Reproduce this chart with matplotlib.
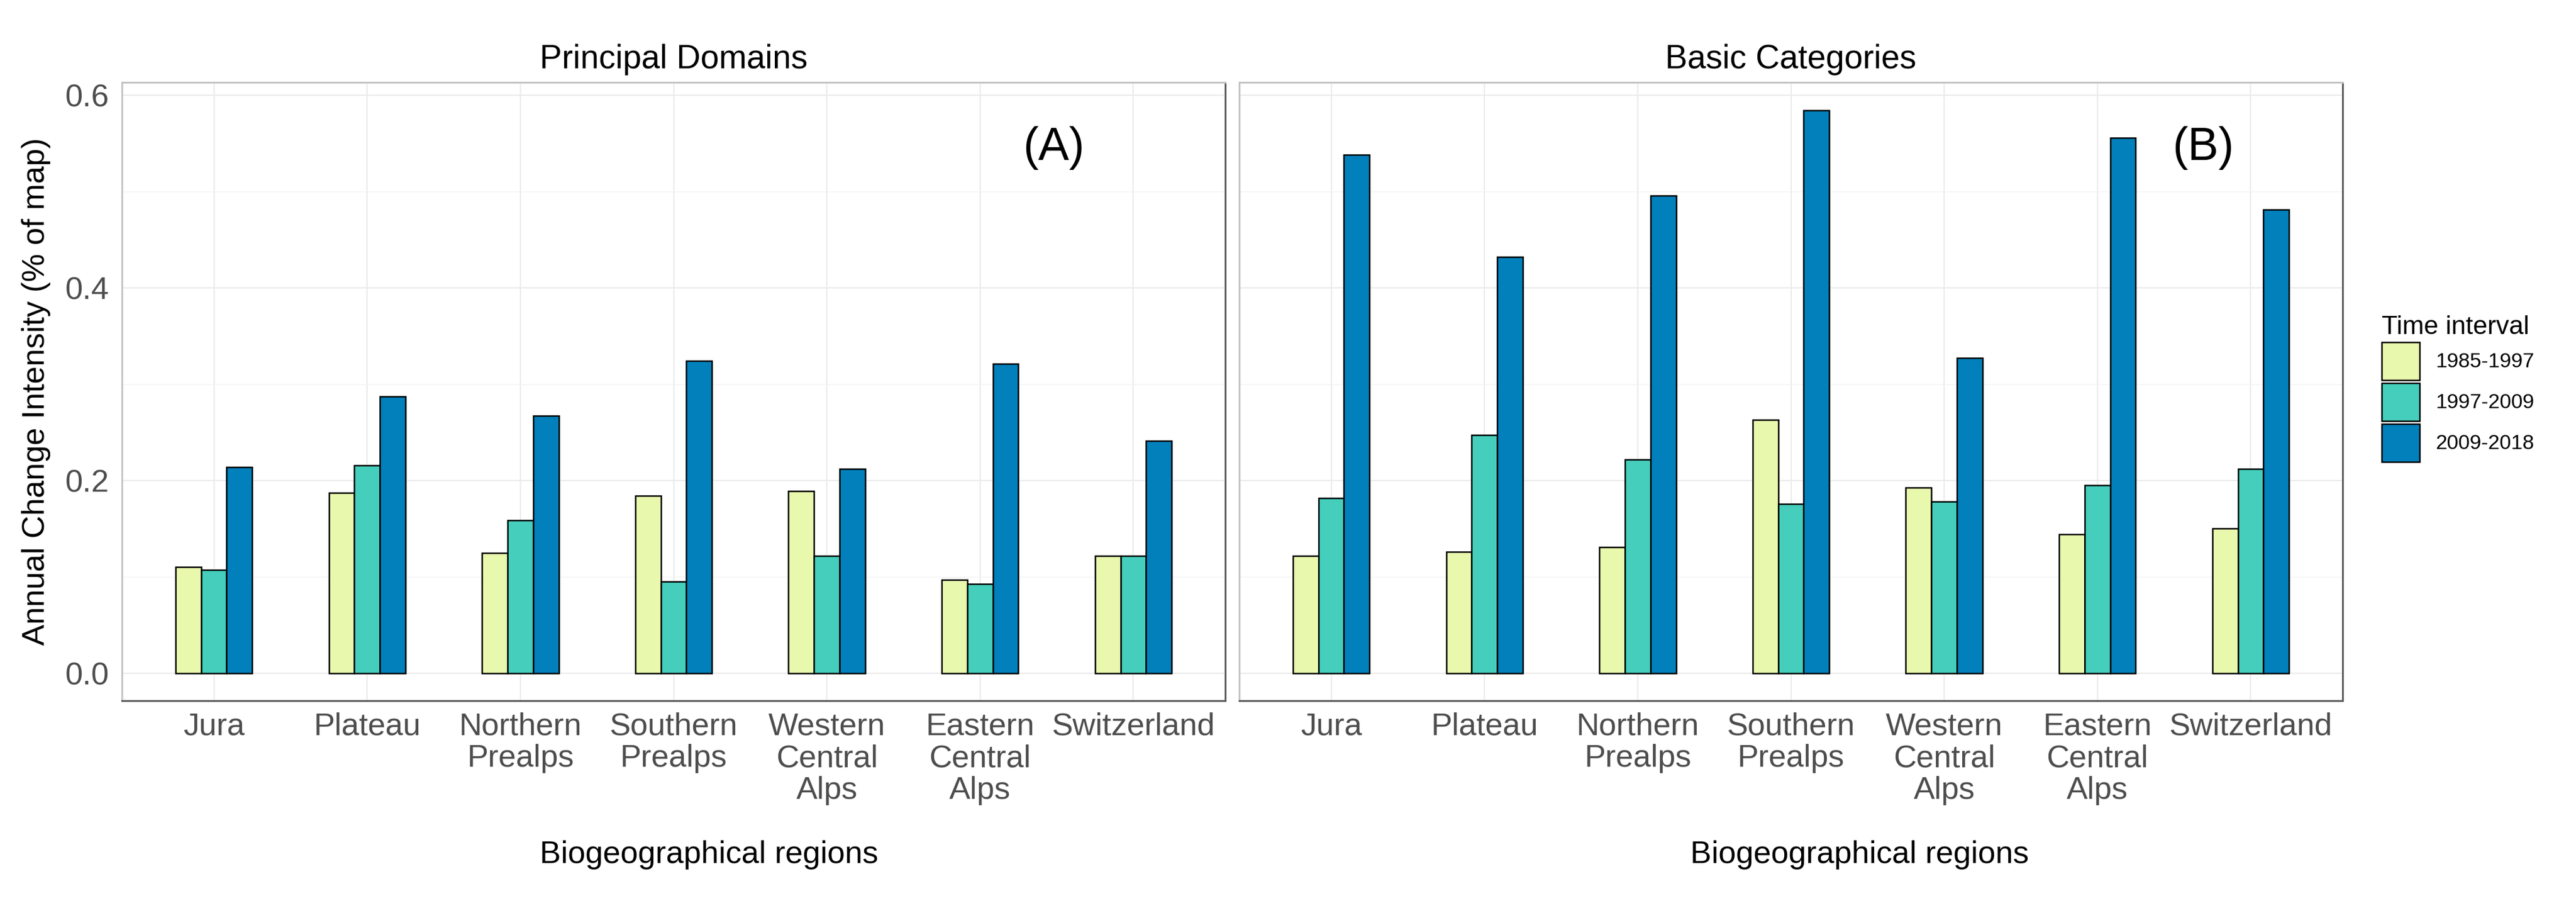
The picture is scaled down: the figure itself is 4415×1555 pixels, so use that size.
import matplotlib
matplotlib.use("Agg")
import matplotlib.pyplot as plt
import numpy as np
from matplotlib.patches import Patch

# Data -----------------------------------------------------------
regions = ["Jura", "Plateau", "Northern\nPrealps", "Southern\nPrealps",
           "Western\nCentral\nAlps", "Eastern\nCentral\nAlps", "Switzerland"]
intervals = ["1985-1997", "1997-2009", "2009-2018"]
colors = ["#E8F8AD", "#44CEBB", "#0180BB"]

# panel A: principal domains
domains_85_97 = [0.110, 0.187, 0.125, 0.184, 0.189, 0.097, 0.122]
domains_97_09 = [0.107, 0.216, 0.159, 0.095, 0.122, 0.093, 0.122]
domains_09_18 = [0.214, 0.287, 0.267, 0.324, 0.212, 0.321, 0.241]

# panel B: basic categories
basic_85_97 = [0.122, 0.126, 0.131, 0.263, 0.193, 0.144, 0.150]
basic_97_09 = [0.182, 0.247, 0.222, 0.176, 0.178, 0.195, 0.212]
basic_09_18 = [0.538, 0.432, 0.496, 0.584, 0.327, 0.556, 0.481]

yticks = [0.0, 0.2, 0.4, 0.6]
ytick_labels = ["0.0", "0.2", "0.4", "0.6"]

# Figure ---------------------------------------------------------
plt.rcParams["font.family"] = ["Liberation Sans", "DejaVu Sans"]

W, H = 4415, 1555
fig = plt.figure(figsize=(W / 100, H / 100), dpi=100)

def px_box(x0, y0, x1, y1):
    return [x0 / W, 1 - y1 / H, (x1 - x0) / W, (y1 - y0) / H]

axA = fig.add_axes(px_box(209, 141, 2100, 1200))
axB = fig.add_axes(px_box(2124, 141, 4015, 1200))

panels = [
    (axA, [domains_85_97, domains_97_09, domains_09_18], "Principal Domains", "(A)", 6.48),
    (axB, [basic_85_97, basic_97_09, basic_09_18], "Basic Categories", "(B)", 6.69),
]

x = np.arange(1, len(regions) + 1)
bw = 0.5 / 3

for ax, series, strip, tag, tag_x in panels:
    for i, vals in enumerate(series):
        ax.bar(x + (i - 1) * bw, vals, width=bw, color=colors[i],
               edgecolor="black", linewidth=1.8, zorder=3)

    ax.set_xlim(0.4, 7.6)
    ax.set_ylim(-0.0285, 0.6133)
    ax.set_xticks(x)
    ax.set_xticklabels(regions, fontsize=39, color="#4D4D4D", linespacing=1.12)
    ax.set_yticks(yticks)
    ax.set_yticks([0.1, 0.3, 0.5], minor=True)
    ax.tick_params(axis="both", which="both", length=0)
    ax.tick_params(axis="x", pad=14)
    ax.tick_params(axis="y", pad=16)

    ax.grid(True, which="major", color="#EBEBEB", linewidth=1.6, zorder=0)
    ax.grid(True, which="minor", axis="y", color="#F2F2F2", linewidth=1.0, zorder=0)
    ax.set_axisbelow(True)

    ax.spines["top"].set_color("#C4C4C4")
    ax.spines["left"].set_color("#C4C4C4")
    ax.spines["right"].set_color("#5A5A5A")
    ax.spines["bottom"].set_color("#5A5A5A")
    for s in ax.spines.values():
        s.set_linewidth(2.2)

    ax.text(0.5, 1.0 + 24 / 1059, strip, transform=ax.transAxes, ha="center",
            va="baseline", fontsize=41, color="black")
    ax.text(tag_x, 0.545, tag, ha="center", va="center", fontsize=57, color="black")

axA.set_yticklabels(ytick_labels, fontsize=39, color="#4D4D4D")
axB.set_yticklabels([])

# axis titles
fig.text(62 / W, 1 - 670 / H, "Annual Change Intensity (% of map)", rotation=90,
         ha="center", va="center", fontsize=39, color="black")
fig.text(1215 / W, 1 - 1478 / H, "Biogeographical regions", ha="center",
         va="baseline", fontsize=39, color="black")
fig.text(3187 / W, 1 - 1478 / H, "Biogeographical regions", ha="center",
         va="baseline", fontsize=39, color="black")

# legend
handles = [Patch(facecolor=colors[i], edgecolor="black", linewidth=1.8)
           for i in range(len(intervals))]
leg = fig.legend(handles, intervals, loc="upper left",
                 bbox_to_anchor=(4082 / W, 1 - 540 / H), frameon=False,
                 title="Time interval", title_fontsize=32, fontsize=25.5,
                 handlelength=1.84, handleheight=2.45, labelspacing=0.14,
                 handletextpad=0.76, borderpad=0, borderaxespad=0,
                 alignment="left")

fig.savefig("out.png", dpi=100, facecolor="white")
